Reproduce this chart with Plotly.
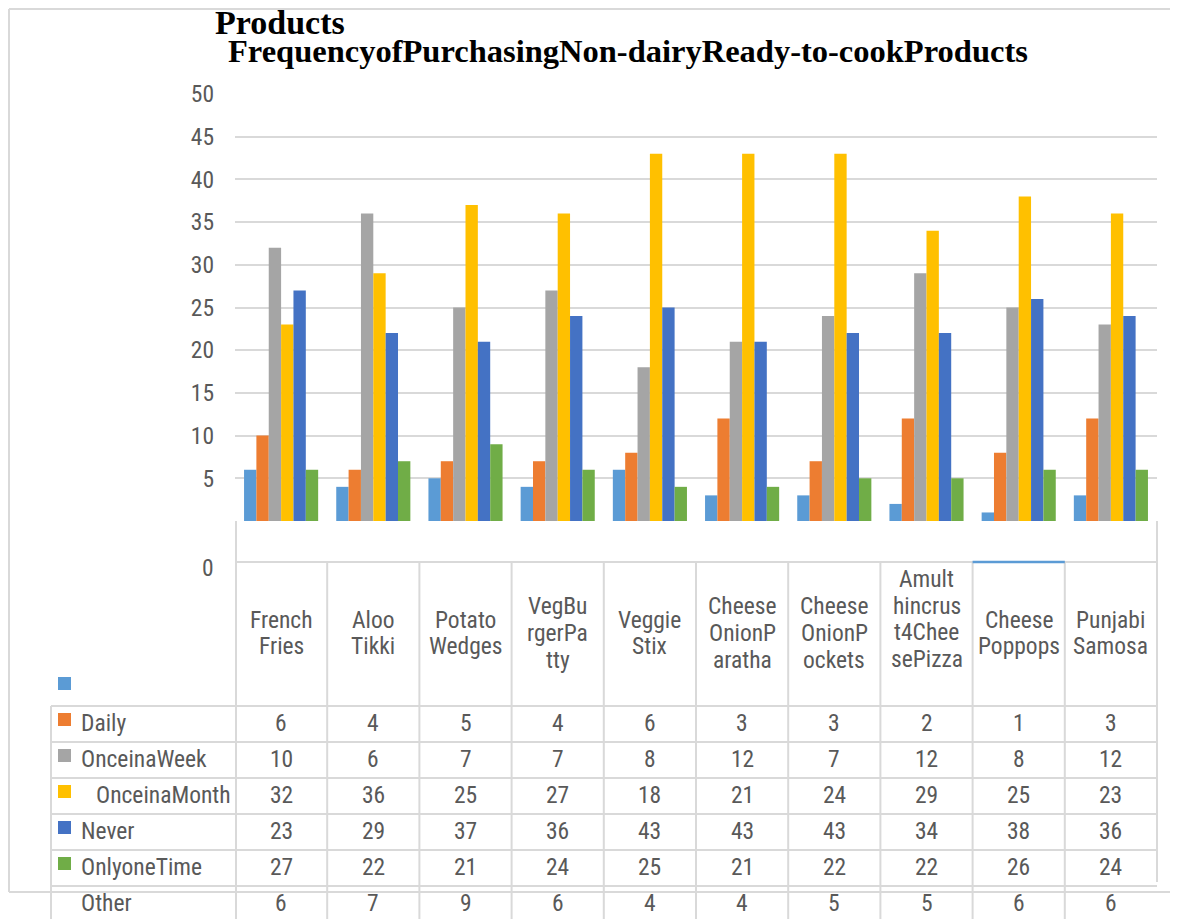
import plotly.graph_objects as go

# ---------------- data ----------------
categories = ["French Fries", "Aloo Tikki", "Potato Wedges", "VegBurgerPatty", "Veggie Stix",
              "CheeseOnionParatha", "CheeseOnionPockets", "Amulthincrust4CheesePizza",
              "Cheese Poppops", "Punjabi Samosa"]
header_labels = [["French", "Fries"], ["Aloo", "Tikki"], ["Potato", "Wedges"], ["VegBu", "rgerPa", "tty"],
                 ["Veggie", "Stix"], ["Cheese", "OnionP", "aratha"], ["Cheese", "OnionP", "ockets"],
                 ["Amult", "hincrus", "t4Chee", "sePizza"], ["Cheese", "Poppops"], ["Punjabi", "Samosa"]]

row_labels = ["Daily", "OnceinaWeek", "OnceinaMonth", "Never", "OnlyoneTime", "Other"]
daily = [6, 4, 5, 4, 6, 3, 3, 2, 1, 3]
once_week = [10, 6, 7, 7, 8, 12, 7, 12, 8, 12]
once_month = [32, 36, 25, 27, 18, 21, 24, 29, 25, 23]
never = [23, 29, 37, 36, 43, 43, 43, 34, 38, 36]
only_once = [27, 22, 21, 24, 25, 21, 22, 22, 26, 24]
other = [6, 7, 9, 6, 4, 4, 5, 5, 6, 6]
series = [daily, once_week, once_month, never, only_once, other]

title_top = "Products"
title_main = "FrequencyofPurchasingNon-dairyReady-to-cookProducts"
y_ticks = [5, 10, 15, 20, 25, 30, 35, 40, 45, 50]

# ---------------- style ----------------
bar_colors = ["#5B9BD5", "#ED7D31", "#A5A5A5", "#FFC000", "#4472C4", "#70AD47"]
GRID = "#D9D9D9"
TXT = "#595959"
FONT = "Liberation Sans Narrow, Arial Narrow, Roboto Condensed, DejaVu Sans Condensed, sans-serif"
SERIF = "Liberation Serif, Times New Roman, serif"
FS = 23.5

OFF = 8  # page offset of the figure inside the browser window
W, H = 1178, 919
# plot area in window pixels: x 235..1157, y 94..521
L = 235 - OFF
T = 94 - OFF
R = W - (1157 - OFF)
B = H - (521 - OFF)
PW, PH = W - L - R, H - T - B


def X(px):
    return (px - OFF - L) / PW


def Y(py):
    return (H - B - (py - OFF)) / PH


fig = go.Figure()
for vals, name, col in zip(series, row_labels, bar_colors):
    fig.add_trace(go.Bar(x=categories, y=vals, name=name, marker=dict(color=col, line=dict(width=0)),
                         showlegend=False, hoverinfo="skip"))

shapes = []


def line(x0, y0, x1, y1, color=GRID, width=2, xref="paper"):
    shapes.append(dict(type="line", xref=xref, yref="paper", x0=x0, y0=y0, x1=x1, y1=y1,
                       line=dict(color=color, width=width), layer="above"))


# outer border
line(X(9), Y(9), X(1190), Y(9))
line(X(9), Y(9), X(9), Y(892))
line(X(9), Y(892), X(1190), Y(892))
# table frame
line(X(236), Y(521), X(236), Y(930))
line(X(1157), Y(521), X(1157), Y(882))
n = len(categories)
for k in range(1, n):
    line(k - 0.5, Y(562), k - 0.5, Y(930), xref="x")
line(X(236), Y(562), X(1157), Y(562))
line(X(51), Y(706), X(51), Y(930))
row_tops = [706 + 36 * i for i in range(6)]
for rt in row_tops:
    line(X(51), Y(rt), X(1157), Y(rt))
# highlighted header edge
line(n - 2 - 0.5, Y(562), n - 2 + 0.5, Y(562), color="#5B9BD5", width=2.5, xref="x")

ann = []


def text(t, x, y, xref="paper", xanchor="center", font=None):
    ann.append(dict(text=t, x=x, y=y, xref=xref, yref="paper", xanchor=xanchor, yanchor="middle",
                    showarrow=False, font=font or dict(family=FONT, size=FS, color=TXT)))


text("<b>" + title_top + "</b>", X(213), Y(22), xanchor="left",
     font=dict(family=SERIF, size=34, color="black"))
text("<b>" + title_main + "</b>", X(226), Y(51), xanchor="left",
     font=dict(family=SERIF, size=32.5, color="black"))
text("0", X(216), Y(568), xanchor="right")

LH = 26.7
for i, lines in enumerate(header_labels):
    nl = len(lines)
    cy = 633 if nl <= 3 else 619
    for j, s in enumerate(lines):
        yy = cy + (j - (nl - 1) / 2) * LH
        text(s, i, Y(yy), xref="x")

label_indent = [0, 0, 15, 0, 0, 0]
for r, (lab, vals) in enumerate(zip(row_labels, series)):
    cy = row_tops[r] + 17
    text(lab, X(79 + label_indent[r]), Y(cy), xanchor="left")
    for i, v in enumerate(vals):
        text(str(v), i, Y(cy), xref="x")

# legend keys (shifted one row up, as drawn)
for k, col in enumerate(bar_colors):
    top = 677 if k == 0 else 706 + 36 * (k - 1) + 7
    shapes.append(dict(type="rect", xref="paper", yref="paper", x0=X(58), x1=X(71), y0=Y(top),
                       y1=Y(top + 13), fillcolor=col, line=dict(width=0), layer="above"))

fig.update_layout(
    width=W, height=H, autosize=False,
    margin=dict(l=L, r=R, t=T, b=B, pad=0),
    paper_bgcolor="white", plot_bgcolor="white",
    barmode="group", bargap=0.196, bargroupgap=0,
    xaxis=dict(showticklabels=False, showgrid=False, zeroline=False, showline=False, ticks="",
               range=[-0.5, n - 0.5]),
    yaxis=dict(range=[0, 50], tickvals=y_ticks, showgrid=True, gridcolor=GRID, gridwidth=1.5,
               zeroline=False, showline=False, ticks="", ticklabelstandoff=20,
               tickfont=dict(family=FONT, size=FS, color=TXT)),
    shapes=shapes, annotations=ann,
)

fig.write_html("out.html")
